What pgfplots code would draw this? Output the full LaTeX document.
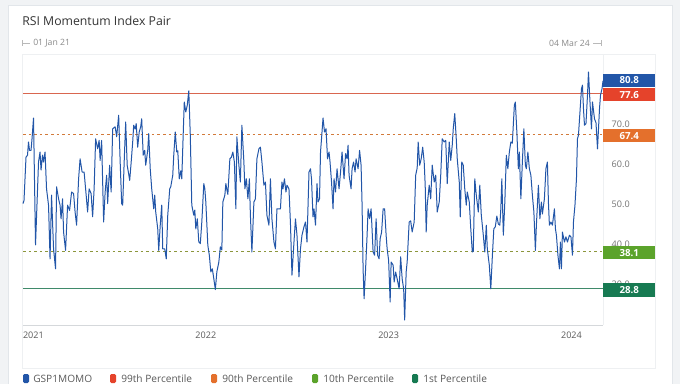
\documentclass[border=0pt]{standalone}
\usepackage{pgfplots}
\usepackage{pgfplotstable}
\pgfplotsset{compat=1.18}
\usepackage{fontspec}
\setmainfont{Open Sans}
\definecolor{series}{HTML}{2256A8}
\definecolor{pninety9}{HTML}{E5432B}
\definecolor{pninety}{HTML}{E4702C}
\definecolor{pten}{HTML}{5BA32B}
\definecolor{pone}{HTML}{177A52}
\definecolor{line99}{HTML}{D9664F}
\definecolor{line90}{HTML}{D27A3A}
\definecolor{line10}{HTML}{8C963C}
\definecolor{line1}{HTML}{3F8A6A}
\definecolor{bggray}{HTML}{F1F3F5}
\definecolor{cardborder}{HTML}{E2E6EA}
\definecolor{innerborder}{HTML}{EEF0F2}
\definecolor{titlec}{HTML}{333333}
\definecolor{lightc}{HTML}{8A8A8A}
\definecolor{tickc}{HTML}{5A5A5A}
\definecolor{axisgray}{HTML}{D5D8DB}

\pgfplotstableread{
x y
0 50.1
2 50.9
6 61.7
9 62.2
11 65.5
13 63.4
16 63.4
18 66.3
21 71.5
25 39.8
31 60.5
34 63
36 58.5
39 62.2
41 60.5
44 63
47 53.8
51 49.7
54 36.3
57 52.2
61 38.8
65 33.8
67 54.3
71 51.3
74 49.7
76 46.3
79 51.3
81 43
85 38.4
89 49.7
93 48.4
97 53
101 52.6
104 48
107 44.7
111 56.3
114 61.3
118 58
122 58
125 53.8
129 48
132 53.8
136 52.6
139 46.8
142 53.8
145 66.3
149 63.8
152 65.9
154 60.9
157 65.9
161 45.5
164 53
167 57.2
169 50.1
173 59.7
176 53
179 68.8
184 69.3
187 66.8
191 72.2
194 60.5
197 50.1
199 49.7
202 60.5
205 70.5
208 59.7
211 57.5
213 55.9
216 60.5
219 65.5
221 69.7
224 68.7
226 70.1
229 64.2
232 68
235 69.3
237 71.3
240 62.2
243 63.4
245 59.7
249 63.4
251 67.6
254 58.8
257 53.8
261 48.8
263 52.2
265 48
269 43.8
271 38.4
274 44.7
277 49.7
279 38.8
283 38.8
286 36.3
289 47.2
293 53.8
295 54.3
299 57.2
301 62.2
304 68
307 63
309 63.3
312 56.3
315 58.3
317 56.3
320 68
322 75.5
325 73
328 74.7
331 78.3
334 67.2
337 49.7
341 47.2
343 48.5
345 43.8
348 46.3
351 40.5
354 40.1
357 45.5
361 55.1
363 53.8
365 50.5
369 39.7
372 37.2
375 33
378 33.8
381 31.3
384 28.6
387 33
391 35.5
394 39.3
397 38.5
399 50.5
403 52.2
405 55.1
407 53.6
409 52.4
413 61.3
416 61.7
419 63
422 60.5
425 48.8
427 66.8
431 59.7
434 55.5
437 69.7
441 60.5
443 53.8
446 56.3
449 51.3
452 56.3
454 47.2
457 38
461 50.5
464 51.3
467 61.3
471 63.8
474 64.2
477 60.5
481 54.7
484 55.5
487 47.2
491 44.7
494 56.3
497 46.3
501 40.5
504 38.8
507 48.8
511 48.8
514 48.8
517 55.5
519 53.8
522 56.3
525 53
527 54.7
531 53.8
534 45.1
537 32.2
541 40.5
544 46.3
547 42.2
551 31.8
554 38.8
557 42.2
561 44.3
564 45.5
567 40.5
571 58
574 58.8
576 56.3
579 46.8
581 48.8
584 44.7
587 55.1
589 50.5
592 51.3
594 63
596 66.3
599 71.5
602 68
605 68.8
608 61.3
611 63
613 60.5
616 55.5
619 48.8
621 56.3
624 53
627 58.8
631 53.8
634 58
637 63
641 56.3
644 62.6
647 61.3
649 64.7
651 57.2
655 53.8
657 58.8
660 60.5
663 58
665 61.3
669 58.8
672 63.4
675 59.7
677 49.7
679 33.8
681 26.3
684 33.8
687 42.2
689 48.8
692 46.3
695 48.8
699 38
702 37.2
705 46.3
708 37.2
711 36.3
713 41.3
716 43
719 48.8
722 48.8
725 42.2
727 38.8
730 35.9
733 25.5
735 35.5
739 34.7
741 30.5
744 33
747 31.3
751 28.8
754 36.8
757 31.3
760 28.8
762 21
765 33
767 35.5
771 45.5
774 45.8
777 43
781 45.5
784 57.2
787 59
789 65.5
792 59.7
795 61.3
798 64.2
801 60.5
803 54.7
805 43
807 49.7
811 54.7
814 51.3
817 59.7
821 55.5
824 57.2
827 48
831 50.5
834 57.2
837 66.3
841 65.5
844 65.9
847 55.1
851 65.5
854 60.9
857 64.7
859 68.8
862 72.6
865 66.3
867 61.3
871 55.5
873 46.8
876 60.5
879 59.7
882 53.8
885 49.7
887 53
891 50.5
894 43.8
897 38
899 38.2
902 56.3
905 52.2
909 48
912 54.7
915 47.2
919 42.2
922 38
925 44.7
927 38.8
931 34.7
934 28.8
937 36.8
940 43.8
943 44.3
946 47
949 45
952 44.7
954 48.8
956 56.3
959 42.2
962 50.5
965 62.2
968 58.8
971 63
974 65.5
977 65.2
981 74.7
983 75.5
986 68
989 58.8
991 63
994 51.3
997 60.5
1000 68.8
1003 59.7
1005 58.8
1008 63
1011 58.8
1014 57.2
1017 52.2
1020 48
1023 38.4
1025 44.7
1029 54.7
1032 46.3
1035 50.5
1037 47.5
1041 51.3
1044 58.8
1047 60.5
1049 50.5
1051 44.7
1054 45.5
1057 44.7
1061 48.8
1063 43.8
1065 42.2
1068 37.2
1071 33.8
1073 40.5
1075 33.8
1077 43
1081 40.5
1084 41.8
1087 40.5
1091 42.2
1094 41.8
1097 37.2
1099 45.5
1102 49.7
1105 56.3
1107 66.3
1109 67.2
1112 73
1115 78.8
1117 79.7
1119 73.8
1121 69.7
1124 70.1
1127 77.2
1129 83
1132 75.5
1135 68.8
1137 75.5
1141 71.3
1144 70.3
1147 63.8
1151 73.8
1153 77.2
1156 78.8
1158 80.8
}\rsidata

\begin{document}
\begin{tikzpicture}
\useasboundingbox (0,0) rectangle (510pt,287.25pt);
\clip (0,0) rectangle (510pt,287.25pt);
\begin{scope}[x=0.75pt,y=-0.75pt,shift={(0pt,287.25pt)}]
  \fill[bggray] (-2,-2) rectangle (682,390);
  \filldraw[fill=white,draw=cardborder,line width=0.6pt] (8,5) rectangle (672,400);
  \draw[innerborder,line width=0.6pt] (22.5,54) rectangle (655,368);
  \node[anchor=west,inner sep=0,text=titlec,font=\fontsize{9.2}{10}\selectfont] at (22,21) {RSI Momentum Index Pair};
  % range selector
  \draw[lightc!60,line width=0.5pt] (22.5,40) -- (22.5,46) (22.5,43) -- (30,43);
  \node[anchor=west,inner sep=0,text=lightc,font=\fontsize{6.5}{7}\selectfont] at (33,43) {01 Jan 21};
  \node[anchor=east,inner sep=0,text=lightc,font=\fontsize{6.5}{7}\selectfont] at (590,43) {04 Mar 24};
  \draw[lightc!60,line width=0.5pt] (601,40) -- (601,46) (593,43) -- (601,43);
  % plot frame lines
  \draw[axisgray,line width=0.6pt] (23,325) -- (603,325);
  \draw[innerborder,line width=0.6pt] (603,54) -- (603,325);
\end{scope}

\begin{axis}[
  at={(17.25pt,43.5pt)}, anchor=south west,
  scale only axis, width=435pt, height=200.25pt,
  xmin=0, xmax=1158, ymin=19.75, ymax=86.5,
  axis line style={draw=none},
  major tick length=0pt,
  xtick={0,365,730,1095},
  xticklabels={\rlap{2021},2022,2023,2024},
  x tick label style={font=\fontsize{6.8}{7}\selectfont, text=tickc, yshift=-1.5pt},
  ytick={30,40,50,60,70},
  yticklabel pos=right,
  y tick label style={font=\fontsize{6.8}{7}\selectfont, text=tickc!85, anchor=west, xshift=3pt,
     /pgf/number format/.cd, fixed, fixed zerofill, precision=1, assume math mode=true},
  clip=false,
]
  \addplot[line99, line width=0.8pt] coordinates {(0,77.6) (1158,77.6)};
  \addplot[line90, line width=0.7pt, dash pattern=on 2pt off 2.2pt] coordinates {(0,67.4) (1158,67.4)};
  \addplot[line10, line width=0.7pt, dash pattern=on 2pt off 2.2pt] coordinates {(0,38.1) (1158,38.1)};
  \addplot[line1, line width=0.8pt] coordinates {(0,28.8) (1158,28.8)};
  \addplot[series, line width=0.75pt, line join=round] table[x=x,y=y] {\rsidata};
  \coordinate (La) at (axis cs:1158,80.8);
  \coordinate (Lb) at (axis cs:1158,77.6);
  \coordinate (Lc) at (axis cs:1158,67.4);
  \coordinate (Ld) at (axis cs:1158,38.1);
  \coordinate (Le) at (axis cs:1158,28.8);
\end{axis}

\tikzset{vbox/.style={anchor=west, inner sep=0pt, minimum width=39pt, minimum height=10pt,
  text=white, font=\fontsize{7.3}{8}\selectfont\bfseries}}
\node[vbox, fill=series] at ([yshift=0.3pt]La) {80.8};
\node[vbox, fill=pninety9] at ([yshift=-0.9pt]Lb) {77.6};
\node[vbox, fill=pninety] at ([yshift=-0.9pt]Lc) {67.4};
\node[vbox, fill=pten] at ([yshift=-0.9pt]Ld) {38.1};
\node[vbox, fill=pone] at ([yshift=-0.9pt]Le) {28.8};

% legend
\begin{scope}[x=0.75pt,y=-0.75pt,shift={(0pt,287.25pt)}]
  \tikzset{lsq/.style={rounded corners=1pt}, ltx/.style={anchor=west,inner sep=0,text=tickc,font=\fontsize{7.6}{8}\selectfont}}
  \fill[series,lsq] (23,374) rectangle (29,383);
  \node[ltx] at (33,378.5) {GSP1MOMO};
  \fill[pninety9,lsq] (110,374) rectangle (116,383);
  \node[ltx] at (121,378.5) {99th Percentile};
  \fill[pninety,lsq] (211,374) rectangle (217,383);
  \node[ltx] at (222,378.5) {90th Percentile};
  \fill[pten,lsq] (312,374) rectangle (318,383);
  \node[ltx] at (323,378.5) {10th Percentile};
  \fill[pone,lsq] (412,374) rectangle (418,383);
  \node[ltx] at (423,378.5) {1st Percentile};
\end{scope}
\end{tikzpicture}
\end{document}
